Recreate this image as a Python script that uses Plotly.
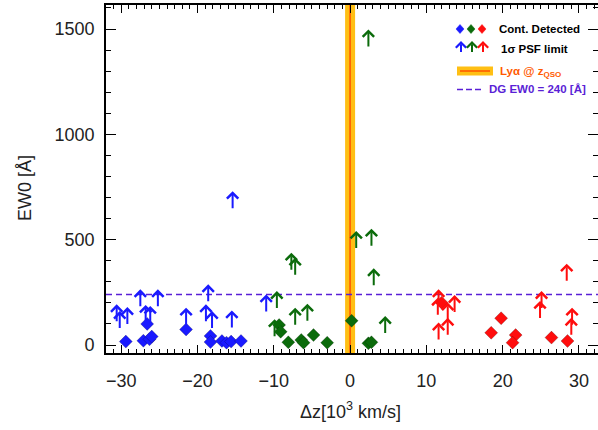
import plotly.graph_objects as go

# ---------------- data ----------------
blue_det_x = [-29.4, -27.1, -26.3, -26.0, -26.6, -21.5, -18.3, -18.3, -16.8, -16.2, -15.6, -14.3]
blue_det_y = [16, 20, 27, 40, 100, 74, 43, 14, 19, 11, 16, 19]
blue_lim_x = [-30.6, -30.2, -29.2, -27.5, -26.8, -26.2, -25.2, -21.5, -18.6, -18.9, -18.1, -15.4, -15.5, -11.0]
blue_lim_y = [103, 71, 90, 174, 100, 95, 174, 87, 198, 103, 71, 640, 74, 150]

green_det_x = [-9.3, -9.1, -8.1, -6.4, -6.1, -4.8, -3.0, 0.2, 2.4, 2.8]
green_det_y = [95, 63, 13, 24, 11, 47, 11, 115, 8, 13]
green_lim_x = [-9.6, -9.9, -7.7, -7.2, -7.2, -5.6, 0.8, 2.8, 2.4, 3.1, 4.6]
green_lim_y = [166, 32, 348, 324, 87, 106, 451, 462, 1408, 274, 47]

red_det_x = [12.0, 18.5, 19.8, 21.7, 21.3, 26.4, 28.5]
red_det_y = [201, 58, 127, 47, 11, 35, 19]
red_lim_x = [11.6, 11.6, 11.5, 12.8, 12.8, 13.7, 25.1, 24.9, 28.4, 29.1, 29.0]
red_lim_y = [174, 16, 134, 111, 39, 147, 166, 119, 296, 87, 39]

qso_dz = 0.0          # Lya @ z_QSO
dg_ew0 = 240.0        # DG EW0 threshold
x_range = [-32, 32.5]
y_range = [-38, 1614]
x_ticks = [-30, -20, -10, 0, 10, 20, 30]
y_ticks = [0, 500, 1000, 1500]

BLUE = "#1a1aff"
GREEN = "#0b6b0b"
RED = "#ff0d0d"
GOLD = "#ffbf14"
ORANGE = "#ff5a00"
PURPLE = "#5a1fd6"

fig = go.Figure()

# Lya band at z_QSO
fig.add_trace(go.Scatter(x=[qso_dz, qso_dz], y=y_range, mode="lines",
                         line=dict(color=GOLD, width=10), hoverinfo="skip", showlegend=False))
fig.add_trace(go.Scatter(x=[qso_dz, qso_dz], y=y_range, mode="lines",
                         line=dict(color=ORANGE, width=1.6), hoverinfo="skip", showlegend=False))
# DG EW0 threshold
fig.add_trace(go.Scatter(x=x_range, y=[dg_ew0, dg_ew0], mode="lines",
                         line=dict(color=PURPLE, width=1.6, dash="6px,4px"),
                         hoverinfo="skip", showlegend=False))

for xs, ys, col in [(blue_det_x, blue_det_y, BLUE), (green_det_x, green_det_y, GREEN),
                    (red_det_x, red_det_y, RED)]:
    fig.add_trace(go.Scatter(x=xs, y=ys, mode="markers",
                             marker=dict(symbol="diamond", size=10, color=col,
                                         line=dict(color="rgba(0,0,0,0.35)", width=0.6)),
                             showlegend=False))

annotations = []
ARROW_LEN = 19
for xs, ys, col in [(blue_lim_x, blue_lim_y, BLUE), (green_lim_x, green_lim_y, GREEN),
                    (red_lim_x, red_lim_y, RED)]:
    for xv, yv in zip(xs, ys):
        annotations.append(dict(x=xv, y=yv, xref="x", yref="y", ax=0, ay=ARROW_LEN,
                                yshift=ARROW_LEN, showarrow=True, arrowhead=4,
                                arrowsize=1.1, arrowwidth=2, arrowcolor=col, text=" ",
                                font=dict(size=1)))

# ---------------- legend (drawn manually) ----------------
def px2paper_x(px):
    return (px - 106) / 492.0

def px2paper_y(py):
    return (353 - py) / 348.0

LEG_FONT = "Liberation Sans, Arial, sans-serif"
shapes = []
for px, col in [(460, BLUE), (471, GREEN), (482, RED)]:
    shapes.append(dict(type="path", xref="paper", yref="paper",
                       xsizemode="pixel", ysizemode="pixel",
                       xanchor=px2paper_x(px), yanchor=px2paper_y(29),
                       path="M0,4.5 L4,0 L0,-4.5 L-4,0 Z",
                       fillcolor=col, line=dict(color=col, width=0.5)))
    annotations.append(dict(x=px2paper_x(px + 1), y=px2paper_y(41), xref="paper", yref="paper",
                            ax=0, ay=13, showarrow=True, arrowhead=4, arrowsize=1.0,
                            arrowwidth=2, arrowcolor=col, text=" ", font=dict(size=1)))
annotations += [
    dict(x=px2paper_x(497), y=px2paper_y(29), xref="paper", yref="paper",
         xanchor="left", yanchor="middle",
         text="<b>Cont. Detected</b>", showarrow=False,
         font=dict(size=11.5, color="black", family=LEG_FONT)),
    dict(x=px2paper_x(499), y=px2paper_y(49), xref="paper", yref="paper",
         xanchor="left", yanchor="middle",
         text="<b>1σ PSF limit</b>", showarrow=False,
         font=dict(size=11.5, color="black", family=LEG_FONT)),
    dict(x=px2paper_x(498), y=px2paper_y(72), xref="paper", yref="paper",
         xanchor="left", yanchor="middle",
         text="<b>Lyα @ z<sub>QSO</sub></b>", showarrow=False,
         font=dict(size=11.5, color=ORANGE, family=LEG_FONT)),
    dict(x=px2paper_x(487), y=px2paper_y(89), xref="paper", yref="paper",
         xanchor="left", yanchor="middle",
         text="<b>DG EW0 = 240 [Å]</b>", showarrow=False,
         font=dict(size=11.5, color=PURPLE, family=LEG_FONT)),
]

shapes += [
    dict(type="rect", xref="paper", yref="paper",
         x0=px2paper_x(457), x1=px2paper_x(493), y0=px2paper_y(75.5), y1=px2paper_y(66.5),
         fillcolor=GOLD, line=dict(width=0)),
    dict(type="line", xref="paper", yref="paper",
         x0=px2paper_x(460), x1=px2paper_x(490), y0=px2paper_y(71), y1=px2paper_y(71),
         line=dict(color=ORANGE, width=1.6)),
    dict(type="line", xref="paper", yref="paper",
         x0=px2paper_x(457), x1=px2paper_x(483), y0=px2paper_y(89.5), y1=px2paper_y(89.5),
         line=dict(color=PURPLE, width=1.6, dash="6px,3px")),
]

TICK_FONT = dict(family="Liberation Sans, Arial, sans-serif", size=18, color="#222222")

# axis titles as annotations for exact placement
annotations += [
    dict(x=px2paper_x(350), y=px2paper_y(410), xref="paper", yref="paper",
         xanchor="center", yanchor="middle", showarrow=False,
         text="Δz[10<sup>3</sup> km/s]", font=TICK_FONT),
    dict(x=px2paper_x(25), y=px2paper_y(188), xref="paper", yref="paper",
         xanchor="center", yanchor="middle", showarrow=False, textangle=-90,
         text="EW0 [Å]", font=TICK_FONT),
]

fig.update_layout(
    width=598, height=430,
    margin=dict(l=106, r=0, t=5, b=77, autoexpand=False),
    plot_bgcolor="white", paper_bgcolor="white",
    annotations=annotations, shapes=shapes,
    showlegend=False,
    xaxis=dict(range=x_range, tickvals=x_ticks, ticks="inside", ticklen=8, tickwidth=1.2,
               tickcolor="black", showline=True, linecolor="black", linewidth=1.6,
               mirror="ticks", showgrid=False, zeroline=False, automargin=False,
               minor=dict(dtick=1, ticklen=4, tickwidth=1, tickcolor="black", ticks="inside"),
               tickfont=TICK_FONT, ticklabelstandoff=11),
    yaxis=dict(range=y_range, tickvals=y_ticks, ticks="inside", ticklen=10, tickwidth=1.2,
               tickcolor="black", showline=True, linecolor="black", linewidth=1.6,
               mirror="ticks", showgrid=False, zeroline=False, automargin=False,
               minor=dict(dtick=100, ticklen=5, tickwidth=1, tickcolor="black", ticks="inside"),
               tickfont=TICK_FONT, ticklabelstandoff=6),
)

fig.write_html("out.html", config={"displayModeBar": False},
               post_script="document.body.style.margin='0';document.body.style.padding='0';")
